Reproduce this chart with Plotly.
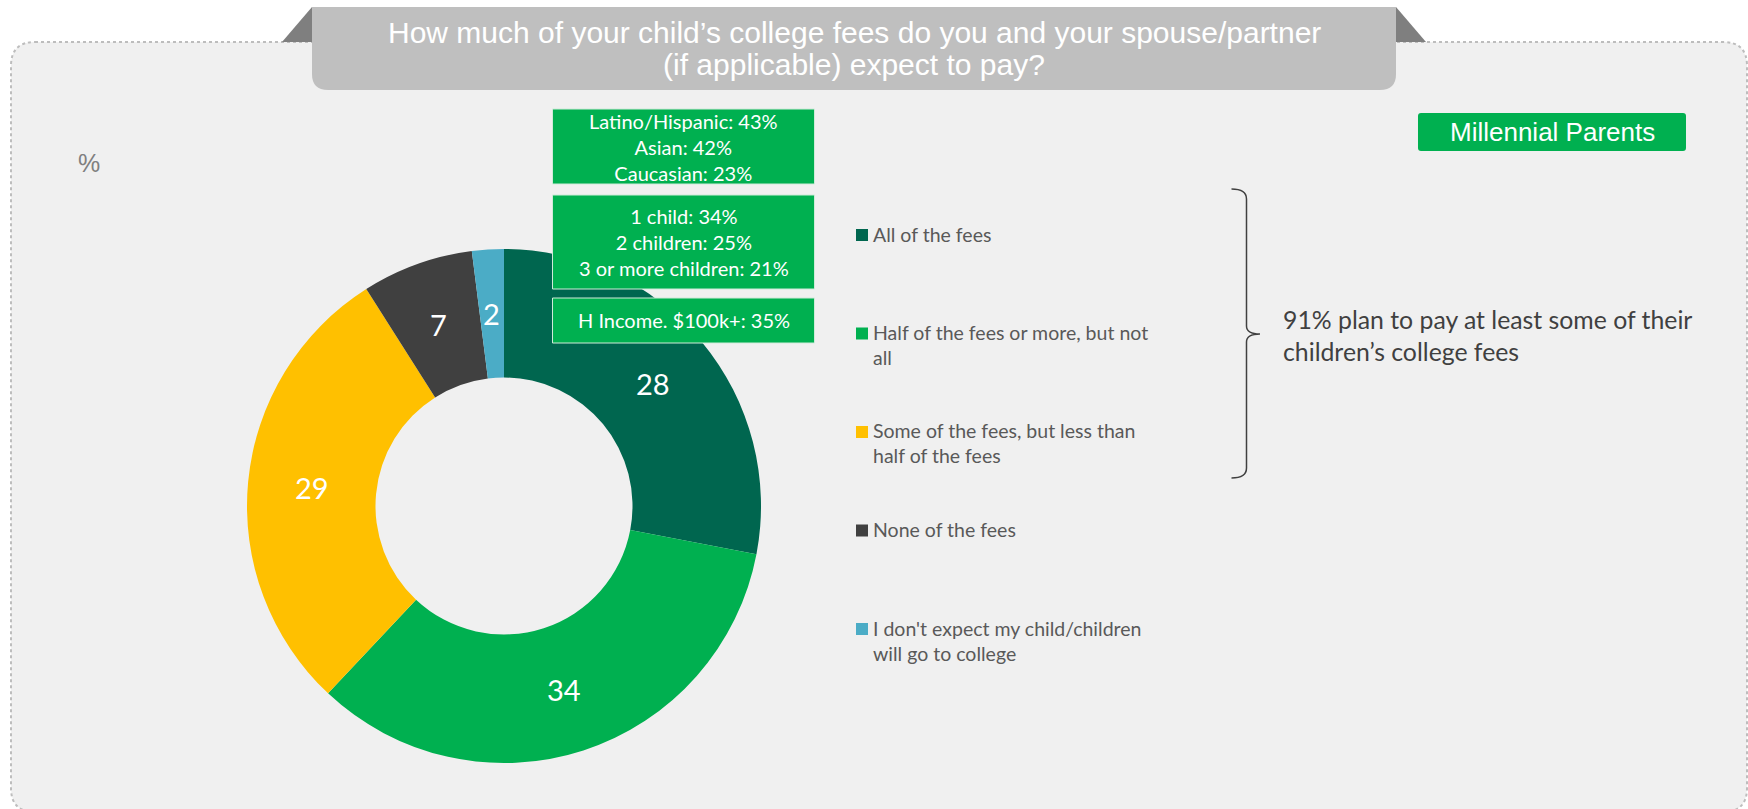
import numpy as np
import plotly.graph_objects as go

# ---- data ----
categories = [
    "All of the fees",
    "Half of the fees or more, but not all",
    "Some of the fees, but less than half of the fees",
    "None of the fees",
    "I don't expect my child/children will go to college",
]
legend_labels = [
    "All of the fees",
    "Half of the fees or more, but not<br>all",
    "Some of the fees, but less than<br>half of the fees",
    "None of the fees",
    "I don't expect my child/children<br>will go to college",
]
values = [28, 34, 29, 7, 2]
colors = ["#00664F", "#00B050", "#FFC000", "#404040", "#4BACC6"]

ethnicity = [("Latino/Hispanic", 43), ("Asian", 42), ("Caucasian", 23)]
children = [("1 child", 34), ("2 children", 25), ("3 or more children", 21)]
income = [("H Income. $100k+", 35)]

title_lines = [
    "How much of your child’s college fees do you and your spouse/partner",
    "(if applicable) expect to pay?",
]
segment_label = "Millennial Parents"
summary_text = "91% plan to pay at least some of their<br>children’s college fees"
unit_label = "%"

# ---- canvas helpers (pixel -> paper) ----
W, H = 1748, 809


def px(x):
    return x / W


def py(y):
    return 1 - y / H


def path_of(points, close=True):
    cmds = []
    for cmd, pts in points:
        coords = " ".join(f"{px(x):.5f},{py(y):.5f}" for x, y in pts)
        cmds.append(f"{cmd}{coords}")
    return " ".join(cmds) + (" Z" if close else "")


def rounded_rect(x0, y0, x1, y1, r):
    return path_of([
        ("M", [(x0 + r, y0)]), ("L", [(x1 - r, y0)]), ("Q", [(x1, y0), (x1, y0 + r)]),
        ("L", [(x1, y1 - r)]), ("Q", [(x1, y1), (x1 - r, y1)]),
        ("L", [(x0 + r, y1)]), ("Q", [(x0, y1), (x0, y1 - r)]),
        ("L", [(x0, y0 + r)]), ("Q", [(x0, y0), (x0 + r, y0)]),
    ])


LABEL_FONT = "Lato, Carlito, Calibri, sans-serif"
HEAD_FONT = "Liberation Sans, Arial, sans-serif"

shapes = []
annotations = []

# panel with dotted rounded border
shapes.append(dict(type="path", path=rounded_rect(11, 42, 1747, 812, 24), xref="paper", yref="paper",
                   fillcolor="#F0F0F0", line=dict(color="#BDBDBD", width=2, dash="dot"), layer="below"))
# title tab with folded corners
shapes.append(dict(type="path", xref="paper", yref="paper", layer="below",
                   path=path_of([("M", [(282, 42)]), ("L", [(312, 7)]), ("L", [(312, 42)])]),
                   fillcolor="#7F7F7F", line=dict(width=0)))
shapes.append(dict(type="path", xref="paper", yref="paper", layer="below",
                   path=path_of([("M", [(1396, 7)]), ("L", [(1426, 42)]), ("L", [(1396, 42)])]),
                   fillcolor="#7F7F7F", line=dict(width=0)))
shapes.append(dict(type="path", xref="paper", yref="paper", layer="below",
                   path=path_of([("M", [(312, 7)]), ("L", [(1396, 7)]), ("L", [(1396, 74)]),
                                 ("Q", [(1396, 90), (1380, 90)]), ("L", [(328, 90)]),
                                 ("Q", [(312, 90), (312, 74)])]),
                   fillcolor="#BFBFBF", line=dict(width=0)))
for i, line in enumerate(title_lines):
    annotations.append(dict(text=line, x=px(854), y=py(32.5 + 32 * i), xref="paper", yref="paper",
                            showarrow=False, xanchor="center", yanchor="middle",
                            font=dict(family=HEAD_FONT, size=30, color="#FFFFFF")))

# unit label
annotations.append(dict(text=unit_label, x=px(89), y=py(163), xref="paper", yref="paper", showarrow=False,
                        xanchor="center", yanchor="middle",
                        font=dict(family=HEAD_FONT, size=25, color="#7F7F7F")))

# segment badge
shapes.append(dict(type="path", path=rounded_rect(1418, 113, 1686, 151, 3), xref="paper", yref="paper",
                   fillcolor="#00B050", line=dict(width=0), layer="above"))
annotations.append(dict(text=segment_label, x=px(1552), y=py(132), xref="paper", yref="paper",
                        showarrow=False, xanchor="center", yanchor="middle",
                        font=dict(family=HEAD_FONT, size=26, color="#FFFFFF")))

# donut geometry
cx, cy, r_out, hole = 504, 506, 257, 0.5
fig = go.Figure(go.Pie(
    labels=categories, values=values, hole=hole, sort=False, direction="clockwise", rotation=0,
    marker=dict(colors=colors, line=dict(width=0)), textinfo="none", hoverinfo="label+value",
    domain=dict(x=[px(cx - r_out), px(cx + r_out)], y=[py(cy + r_out), py(cy - r_out)]),
    showlegend=False,
))

# value labels at mid-ring of each slice
vals = np.array(values, dtype=float)
frac_mid = (np.cumsum(vals) - vals / 2) / vals.sum()
theta = 2 * np.pi * frac_mid
r_mid = r_out * (1 + hole) / 2
for v, t in zip(values, theta):
    annotations.append(dict(text=str(v), x=px(cx + r_mid * np.sin(t)), y=py(cy - r_mid * np.cos(t)),
                            xref="paper", yref="paper", showarrow=False, xanchor="center", yanchor="middle",
                            font=dict(family=LABEL_FONT, size=29, color="#FFFFFF")))

# callout boxes with subgroup figures
callouts = [(ethnicity, 109, 184), (children, 195, 289), (income, 298, 343)]
for group, top, bottom in callouts:
    shapes.append(dict(type="rect", xref="paper", yref="paper", layer="above",
                       x0=px(552.5), x1=px(814.5), y0=py(bottom), y1=py(top),
                       fillcolor="#00B050", line=dict(color="#CFEBD9", width=1)))
    text = "<br>".join(f"{name}: {pct}%" for name, pct in group)
    annotations.append(dict(text=text, x=px(683.5), y=py((top + bottom) / 2), xref="paper", yref="paper",
                            showarrow=False, xanchor="center", yanchor="middle", align="center",
                            font=dict(family=LABEL_FONT, size=20, color="#FFFFFF")))

# hand-drawn legend
row_y0, row_step = 235, 98.5
for i, (lab, col) in enumerate(zip(legend_labels, colors)):
    yc = row_y0 + row_step * i
    shapes.append(dict(type="rect", xref="paper", yref="paper", layer="above",
                       x0=px(856), x1=px(868), y0=py(yc + 6), y1=py(yc - 6),
                       fillcolor=col, line=dict(width=0)))
    annotations.append(dict(text=lab, x=px(871), y=py(yc - 14.5), xref="paper", yref="paper",
                            showarrow=False, xanchor="left", yanchor="top", align="left",
                            font=dict(family=LABEL_FONT, size=19.5, color="#595959")))

# bracket grouping the first three answers
bx0, bx1, btip = 1231.5, 1246.5, 1260
by0, bym, by1 = 189, 334, 478
shapes.append(dict(type="path", xref="paper", yref="paper", layer="above",
                   path=path_of([("M", [(bx0, by0)]), ("Q", [(bx1, by0), (bx1, by0 + 10)]),
                                 ("L", [(bx1, bym - 8)]), ("Q", [(bx1, bym), (btip, bym)]),
                                 ("Q", [(bx1, bym), (bx1, bym + 8)]), ("L", [(bx1, by1 - 10)]),
                                 ("Q", [(bx1, by1), (bx0, by1)])], close=False),
                   line=dict(color="#404040", width=1.5)))
annotations.append(dict(text=summary_text, x=px(1281), y=py(335), xref="paper", yref="paper",
                        showarrow=False, xanchor="left", yanchor="middle", align="left",
                        font=dict(family=LABEL_FONT, size=24.8, color="#404040")))

fig.update_layout(
    width=W, height=H, autosize=False,
    margin=dict(l=0, r=0, t=0, b=0),
    paper_bgcolor="#FFFFFF", plot_bgcolor="#FFFFFF",
    shapes=shapes, annotations=annotations,
    showlegend=False,
)

fig.write_html("out.html", config=dict(displayModeBar=False),
               post_script="document.body.style.margin='0';document.body.style.overflow='hidden';")
